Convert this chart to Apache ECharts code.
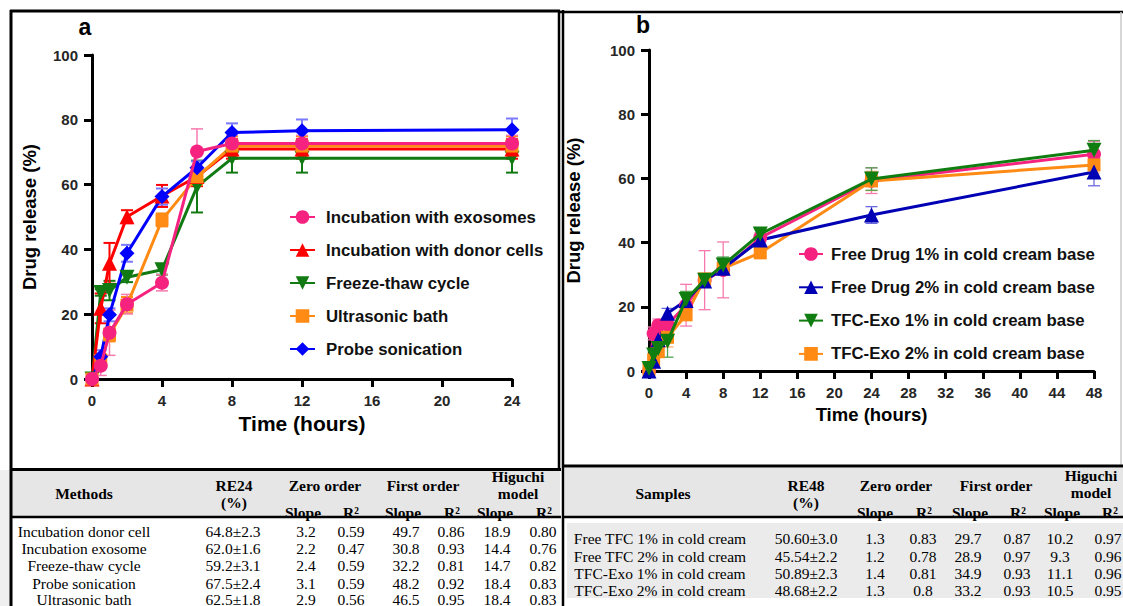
<!DOCTYPE html>
<html><head><meta charset="utf-8">
<script src="https://cdn.jsdelivr.net/npm/echarts@6/dist/echarts.min.js"></script>
<style>html,body{margin:0;padding:0;background:#fff}#c{width:1123px;height:606px}</style>
</head><body><div id="c"></div>
<script>
// ---------- Panel a data ----------
const timeA = [0, 0.5, 1, 2, 4, 6, 8, 12, 24];
const namesA = ['Incubation with exosomes', 'Incubation with donor cells', 'Freeze-thaw cycle', 'Ultrasonic bath', 'Probe sonication'];
const exosomesA = [0, 4.1, 14.3, 23.1, 29.7, 70.2, 72.7, 72.7, 72.7];
const exosomesErrA = [1.5, 3, 7, 3, 2.5, 7, 2.5, 2.5, 2.5];
const donorA = [0, 21.8, 35.7, 50.1, 56.5, 62.5, 71.0, 71.0, 71.0];
const donorErrA = [1.5, 4.6, 6.3, 2, 3.4, 3, 3, 3, 3];
const freezeA = [0, 26.7, 27.3, 31.4, 33.7, 59.4, 68.1, 68.1, 68.1];
const freezeErrA = [0, 1, 3, 1.5, 1.5, 8, 4.4, 4.4, 4.4];
const ultraA = [0, 5.7, 13.6, 22.8, 49.1, 62.4, 71.9, 71.9, 71.9];
const ultraErrA = [1.5, 2, 2, 2.5, 2, 2.5, 3, 3, 3];
const probeA = [0, 6.9, 19.8, 38.8, 56.3, 65.2, 76.1, 76.6, 76.9];
const probeErrA = [0.5, 2, 2, 2.6, 2.5, 2, 2.8, 3.5, 3.5];

// ---------- Panel b data ----------
const timeB = [0, 0.5, 1, 2, 4, 6, 8, 12, 24, 48];
const namesB = ['Free Drug 1% in cold cream base', 'Free Drug 2% in cold cream base', 'TFC-Exo 1% in cold cream base', 'TFC-Exo 2% in cold cream base'];
const free1B = [0, 11.7, 14.2, 14.5, 20.5, 28.3, 31.5, 41.5, 59.3, 67.5];
const free1ErrB = [0, 2, 2, 2, 6.5, 9.2, 8.7, 1.5, 4, 4];
const free2B = [0, 3, 9.7, 18, 22, 28, 32, 40.8, 48.6, 62];
const free2ErrB = [0, 1, 1.5, 1.5, 2, 1.5, 2, 1.5, 2.6, 4.3];
const exo1B = [0.8, 5, 7, 9.3, 22.3, 28.3, 33, 42.7, 59.8, 68.8];
const exo1ErrB = [0.5, 1, 2, 5, 2.5, 1.5, 2.5, 1.5, 3.5, 3];
const exo2B = [0.5, 3.5, 6, 10.5, 17.5, 28.7, 32, 36.8, 59.2, 64.2];
const exo2ErrB = [0.5, 1, 1.5, 3, 1.5, 1.5, 1.5, 1.5, 3, 2.5];

// ---------- Table a ----------
const methodsT = ['Incubation donor cell', 'Incubation exosome', 'Freeze-thaw cycle', 'Probe sonication', 'Ultrasonic bath'];
const re24T = ['64.8±2.3', '62.0±1.6', '59.2±3.1', '67.5±2.4', '62.5±1.8'];
const zeroSlopeA = ['3.2', '2.2', '2.4', '3.1', '2.9'];
const zeroR2A = ['0.59', '0.47', '0.59', '0.59', '0.56'];
const firstSlopeA = ['49.7', '30.8', '32.2', '48.2', '46.5'];
const firstR2A = ['0.86', '0.93', '0.81', '0.92', '0.95'];
const higSlopeA = ['18.9', '14.4', '14.7', '18.4', '18.4'];
const higR2A = ['0.80', '0.76', '0.82', '0.83', '0.83'];

// ---------- Table b ----------
const samplesT = ['Free TFC 1% in cold cream', 'Free TFC 2% in cold cream', 'TFC-Exo 1% in cold cream', 'TFC-Exo 2% in cold cream'];
const re48T = ['50.60±3.0', '45.54±2.2', '50.89±2.3', '48.68±2.2'];
const zeroSlopeB = ['1.3', '1.2', '1.4', '1.3'];
const zeroR2B = ['0.83', '0.78', '0.81', '0.8'];
const firstSlopeB = ['29.7', '28.9', '34.9', '33.2'];
const firstR2B = ['0.87', '0.97', '0.93', '0.93'];
const higSlopeB = ['10.2', '9.3', '11.1', '10.5'];
const higR2B = ['0.97', '0.96', '0.96', '0.95'];

// ---------- styling ----------
const SANS = '"Liberation Sans", Arial, sans-serif';
const SERIF = '"Liberation Serif", "Times New Roman", serif';
const AX = '#262626';

function pairs(t, v) { return t.map((x, i) => [x, v[i]]); }

function lineSeries(name, t, v, color, symbol, size, rot, grid, z) {
  return {
    name, type: 'line', xAxisIndex: grid, yAxisIndex: grid, data: pairs(t, v),
    symbol, symbolSize: size, symbolRotate: rot, z,
    lineStyle: { color, width: 3 }, itemStyle: { color, borderWidth: 0 },
    emphasis: { disabled: true }, animation: false
  };
}
function errSeries(t, v, e, color, grid, lw, cap, z) {
  return {
    type: 'custom', name: '_err' + color + grid, xAxisIndex: grid, yAxisIndex: grid, z, silent: true,
    animation: false,
    data: t.map((x, i) => [x, v[i], e[i]]),
    renderItem(params, api) {
      const x = api.value(0), y = api.value(1), er = api.value(2);
      if (!er) return null;
      const top = api.coord([x, y + er]), bot = api.coord([x, y - er]);
      const st = { stroke: color, lineWidth: lw };
      return {
        type: 'group', children: [
          { type: 'line', shape: { x1: top[0], y1: top[1], x2: bot[0], y2: bot[1] }, style: st },
          { type: 'line', shape: { x1: top[0] - cap, y1: top[1], x2: top[0] + cap, y2: top[1] }, style: st },
          { type: 'line', shape: { x1: bot[0] - cap, y1: bot[1], x2: bot[0] + cap, y2: bot[1] }, style: st }
        ]
      };
    }
  };
}

function axisCommon(extra, nameSize) {
  return Object.assign({
    axisLine: { show: true, onZero: false, lineStyle: { color: '#000', width: 3 } },
    axisTick: { show: true, length: 8, lineStyle: { color: '#000', width: 3 } },
    axisLabel: { color: AX, fontSize: 15, fontWeight: 'bold', fontFamily: SANS, margin: 14 },
    splitLine: { show: false },
    nameTextStyle: { color: '#000', fontSize: nameSize, fontWeight: 'bold', fontFamily: SANS },
    nameLocation: 'middle'
  }, extra);
}

// colours
const PINK = '#f5237f', RED = '#ff0000', GREEN = '#127a12', ORANGE = '#ff8a14', BLUE = '#0000ff';
const PINKB = '#f5237f', NAVY = '#0000b4', GREENB = '#0f7d0f', ORANGEB = '#ff8a14';

const series = [
  errSeries(timeA, freezeA, freezeErrA, GREEN, 0, 2, 6, 1),
  errSeries(timeA, donorA, donorErrA, RED, 0, 2, 6, 1),
  errSeries(timeA, ultraA, ultraErrA, ORANGE, 0, 2, 6, 1),
  errSeries(timeA, probeA, probeErrA, '#7a7aff', 0, 2, 6, 1),
  errSeries(timeA, exosomesA, exosomesErrA, '#f77aae', 0, 1.5, 6, 1),
  lineSeries(namesA[2], timeA, freezeA, GREEN, 'triangle', 15, 180, 0, 2),
  lineSeries(namesA[1], timeA, donorA, RED, 'triangle', 15, 0, 0, 2),
  lineSeries(namesA[3], timeA, ultraA, ORANGE, 'rect', 13, 0, 0, 2),
  lineSeries(namesA[4], timeA, probeA, BLUE, 'diamond', 15, 0, 0, 2),
  lineSeries(namesA[0], timeA, exosomesA, PINK, 'circle', 14, 0, 0, 3),
  errSeries(timeB, free1B, free1ErrB, '#f77aae', 1, 1.3, 6, 1),
  errSeries(timeB, exo2B, exo2ErrB, '#ffb070', 1, 1.3, 6, 1),
  errSeries(timeB, free2B, free2ErrB, '#6a6ae0', 1, 1.3, 6, 1),
  errSeries(timeB, exo1B, exo1ErrB, '#4fa04f', 1, 1.3, 6, 1),
  lineSeries(namesB[0], timeB, free1B, PINKB, 'circle', 14, 0, 1, 2),
  lineSeries(namesB[3], timeB, exo2B, ORANGEB, 'rect', 13, 0, 1, 2),
  lineSeries(namesB[1], timeB, free2B, NAVY, 'triangle', 15, 0, 1, 2),
  lineSeries(namesB[2], timeB, exo1B, GREENB, 'triangle', 15, 180, 1, 3)
];

// ---------- graphic: frames, tables, letters ----------
const g = [];
function L(x1, y1, x2, y2, w, c) { g.push({ type: 'line', silent: true, shape: { x1, y1, x2, y2 }, style: { stroke: c || '#000', lineWidth: w } }); }
function R(x, y, w, h, c) { g.push({ type: 'rect', silent: true, shape: { x, y, width: w, height: h }, style: { fill: c } }); }
function T(text, x, y, font, align) {
  g.push({ type: 'text', silent: true, x, y, style: { text, font, fill: '#000', align: align || 'center', verticalAlign: 'middle' } });
}
R(0, 470, 10, 136, '#efefef');
R(12, 471, 548, 45, '#e6e6e6');
R(565, 468, 558, 48, '#e6e6e6');
R(567, 523, 556, 75, '#ebebeb');
L(10, 11, 560, 11, 3);
L(560, 12, 1123, 12, 2.5);
L(11, 10, 11, 606, 3);
L(559, 10, 559, 468, 2.5);
L(563, 10, 563, 606, 2.5);
L(1121, 12, 1121, 466, 1.5, '#c8c8c8');
L(10, 469.5, 561, 469.5, 3);
L(562, 466, 1123, 466, 3);
L(12, 517, 561, 517, 2.5);
L(562, 517, 1123, 517, 2.5);
T('a', 85, 27, 'bold 23px ' + SANS);
T('b', 643, 25, 'bold 23px ' + SANS);

const HB = 'bold 15.5px ' + SERIF;
const DT = '15.5px ' + SERIF;
T('Methods', 84, 493, HB);
T('RE24', 234, 485, HB); T('(%)', 234, 502, HB);
T('Zero order', 325, 485, HB); T('First order', 423, 485, HB);
T('Higuchi', 518, 476, HB); T('model', 518, 493, HB);
const colA = [303, 351, 403, 452, 495, 544];
['Slope', 'R²', 'Slope', 'R²', 'Slope', 'R²'].forEach((s, i) => T(s, colA[i], 512, HB));
const rowsA = [531, 548, 565.5, 583, 599];
const dataColA = [306, 351, 406, 451, 497, 543];
methodsT.forEach((m, i) => {
  const y = rowsA[i];
  T(m, 84, y, DT); T(re24T[i], 233, y, DT);
  [zeroSlopeA, zeroR2A, firstSlopeA, firstR2A, higSlopeA, higR2A].forEach((arr, j) => T(arr[i], dataColA[j], y, DT));
});
T('Samples', 663, 493, HB);
T('RE48', 806, 485, HB); T('(%)', 806, 502, HB);
T('Zero order', 896, 485, HB); T('First order', 996, 485, HB);
T('Higuchi', 1091, 475, HB); T('model', 1091, 492, HB);
const colB = [875, 924, 970, 1018, 1062, 1110];
['Slope', 'R²', 'Slope', 'R²', 'Slope', 'R²'].forEach((s, i) => T(s, colB[i], 512, HB));
const rowsB = [538, 556, 573, 590];
const dataColB = [875, 923, 968, 1017, 1060, 1108];
samplesT.forEach((m, i) => {
  const y = rowsB[i];
  T(m, 660, y, DT); T(re48T[i], 806, y, DT);
  [zeroSlopeB, zeroR2B, firstSlopeB, firstR2B, higSlopeB, higR2B].forEach((arr, j) => T(arr[i], dataColB[j], y, DT));
});

const legendText = (pad) => ({ fontSize: 16.8, fontWeight: 'bold', fontFamily: SANS, color: '#111', lineHeight: 17, padding: [0, 0, 0, pad] });

const option = {
  backgroundColor: '#fff',
  animation: false,
  grid: [
    { left: 92, top: 55, width: 420, height: 324, containLabel: false },
    { left: 649, top: 50, width: 445, height: 321, containLabel: false }
  ],
  xAxis: [
    axisCommon({ gridIndex: 0, type: 'value', min: 0, max: 24, interval: 4, name: 'Time (hours)', nameGap: 32 }, 21),
    axisCommon({ gridIndex: 1, type: 'value', min: 0, max: 48, interval: 4, name: 'Time (hours)', nameGap: 31 }, 18.5)
  ],
  yAxis: [
    axisCommon({ gridIndex: 0, type: 'value', min: 0, max: 100, interval: 20, name: 'Drug release (%)', nameGap: 53 }, 18.5),
    axisCommon({ gridIndex: 1, type: 'value', min: 0, max: 100, interval: 20, name: 'Drug release (%)', nameGap: 66 }, 18.5)
  ],
  legend: [
    { orient: 'vertical', left: 284, top: 203.5, itemWidth: 25, itemHeight: 17, itemGap: 16, data: namesA, textStyle: legendText(6), selectedMode: false },
    { orient: 'vertical', left: 793, top: 240.5, itemWidth: 24, itemHeight: 17, itemGap: 16.3, data: namesB, textStyle: legendText(3), selectedMode: false }
  ],
  series,
  graphic: { elements: g }
};
const chart = echarts.init(document.getElementById('c'), null, { renderer: 'svg' });
chart.setOption(option);
</script></body></html>
